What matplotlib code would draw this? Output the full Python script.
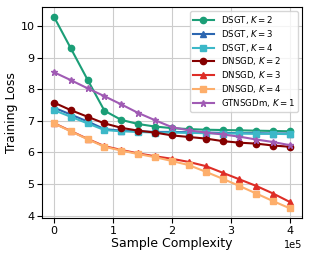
import numpy as np
import matplotlib
matplotlib.use('Agg')
import matplotlib.pyplot as plt

# sample complexity (x 1e5), 15 checkpoints
samples = np.linspace(0, 4e5, 15)

dsgt_k2 = [10.3, 9.3, 8.3, 7.32, 7.03, 6.9, 6.82, 6.77, 6.74, 6.72, 6.71, 6.70, 6.69, 6.68, 6.67]
dsgt_k3 = [7.42, 7.2, 6.98, 6.74, 6.69, 6.67, 6.65, 6.65, 6.64, 6.63, 6.62, 6.61, 6.61, 6.60, 6.60]
dsgt_k4 = [7.34, 7.13, 6.92, 6.71, 6.67, 6.65, 6.63, 6.63, 6.62, 6.61, 6.60, 6.60, 6.59, 6.59, 6.58]
dnsgd_k2 = [7.58, 7.34, 7.13, 6.92, 6.78, 6.69, 6.63, 6.54, 6.49, 6.44, 6.36, 6.31, 6.28, 6.22, 6.18]
dnsgd_k3 = [6.93, 6.68, 6.43, 6.2, 6.08, 5.97, 5.88, 5.8, 5.7, 5.57, 5.36, 5.15, 4.94, 4.7, 4.43]
dnsgd_k4 = [6.92, 6.67, 6.42, 6.18, 6.06, 5.95, 5.85, 5.73, 5.6, 5.39, 5.17, 4.94, 4.7, 4.46, 4.23]
gtnsgdm_k1 = [8.54, 8.29, 8.03, 7.78, 7.52, 7.25, 7.02, 6.8, 6.7, 6.63, 6.57, 6.5, 6.41, 6.33, 6.23]

series = [
    (dsgt_k2, r'DSGT, $K=2$', '#1b9e77', 'o', 4.5),
    (dsgt_k3, r'DSGT, $K=3$', '#2c66b0', '^', 4.5),
    (dsgt_k4, r'DSGT, $K=4$', '#3cb8c8', 's', 4.5),
    (dnsgd_k2, r'DNSGD, $K=2$', '#850000', 'o', 4.5),
    (dnsgd_k3, r'DNSGD, $K=3$', '#de2d26', '^', 4.5),
    (dnsgd_k4, r'DNSGD, $K=4$', '#fdae6b', 's', 4.5),
    (gtnsgdm_k1, r'GTNSGDm, $K=1$', '#a05bb4', '*', 4.5),
]

fig, ax = plt.subplots(figsize=(3.09, 2.58), dpi=100)
fig.subplots_adjust(left=0.136, right=0.977, top=0.973, bottom=0.155)

for vals, label, color, marker, ms in series:
    ax.plot(samples, vals, color=color, marker=marker, markersize=ms,
            linewidth=1.5, label=label)

ax.grid(True, color='#cccccc', linewidth=0.8)
ax.set_xlabel('Sample Complexity', fontsize=9, labelpad=1)
ax.set_ylabel('Training Loss', fontsize=9, labelpad=2)
ax.tick_params(labelsize=8, pad=2)
ax.ticklabel_format(axis='x', style='sci', scilimits=(0, 0))
ax.xaxis.get_offset_text().set_fontsize(7)
ax.set_yticks([4, 5, 6, 7, 8, 9, 10])
ax.legend(loc='upper right', fontsize=6.2, handlelength=2.4,
          labelspacing=0.2, borderpad=0.35)

fig.savefig('out.png', dpi=100)
